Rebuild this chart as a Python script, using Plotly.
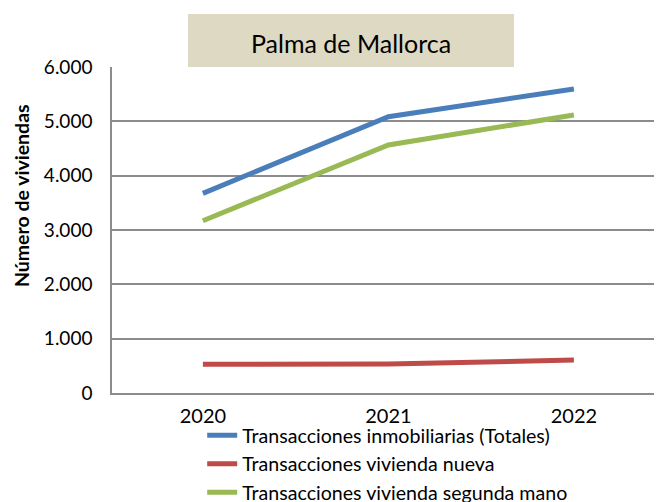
import plotly.graph_objects as go

years = ["2020", "2021", "2022"]
totales = [3675, 5086, 5595]
nueva = [528, 534, 607]
segunda_mano = [3171, 4565, 5117]
series_names = [
    "Transacciones inmobiliarias (Totales)",
    "Transacciones vivienda nueva",
    "Transacciones vivienda segunda mano",
]
series_colors = ["#4a7ebb", "#be4b48", "#98b954"]
y_ticks = [0, 1000, 2000, 3000, 4000, 5000, 6000]
title_text = "Palma de Mallorca"
y_title = "Número de viviendas"

FONT = "Lato"
W, H = 654, 494  # page body has an 8px margin

fig = go.Figure()
for name, vals, col in zip(series_names, [totales, nueva, segunda_mano], series_colors):
    fig.add_trace(go.Scatter(
        x=years, y=vals, name=name, mode="lines",
        line=dict(color=col, width=5),
    ))

fig.update_layout(
    width=W, height=H,
    margin=dict(l=104, r=0, t=59, b=109),
    paper_bgcolor="white", plot_bgcolor="white",
    font=dict(family=FONT, size=16, color="#000000"),
    separators=",.",
    showlegend=True,
    legend=dict(
        x=0.164, xanchor="left",
        yref="container", y=1 - 408 / H, yanchor="top",
        font=dict(family=FONT, size=19.6, color="#000000"),
        bgcolor="rgba(0,0,0,0)", tracegroupgap=0,
        itemwidth=30,
    ),
)

fig.add_shape(
    type="rect", xref="paper", yref="paper",
    x0=0.1382, x1=0.7309, y0=1.0, y1=1.1626,
    fillcolor="#ddd9c3", line=dict(width=0), layer="below",
)
fig.add_annotation(
    text=title_text, xref="paper", yref="paper",
    x=0.4345, y=1.0736, xanchor="center", yanchor="middle",
    showarrow=False, font=dict(family=FONT, size=25, color="#000000"),
)
fig.add_annotation(
    text="<b>" + y_title + "</b>", xref="paper", yref="paper",
    x=-0.1655, y=0.607, xanchor="center", yanchor="middle", textangle=-90,
    showarrow=False, font=dict(family=FONT, size=19.5, color="#000000"),
)

fig.update_xaxes(
    type="category", range=[-0.49, 2.475], automargin=False,
    showgrid=False, showline=True, linecolor="#8c8c8c", linewidth=1.5,
    ticks="", ticklabelstandoff=4,
    tickfont=dict(family=FONT, size=20, color="#000000"),
)
fig.update_yaxes(
    range=[0, 6000], tickvals=y_ticks, tickformat=",d", automargin=False,
    showgrid=True, gridcolor="#8c8c8c", gridwidth=1.5,
    showline=True, linecolor="#8c8c8c", linewidth=1.5,
    zeroline=False, ticks="", ticklabelstandoff=14,
    tickfont=dict(family=FONT, size=19, color="#000000"),
)

fig.write_html("out.html")
